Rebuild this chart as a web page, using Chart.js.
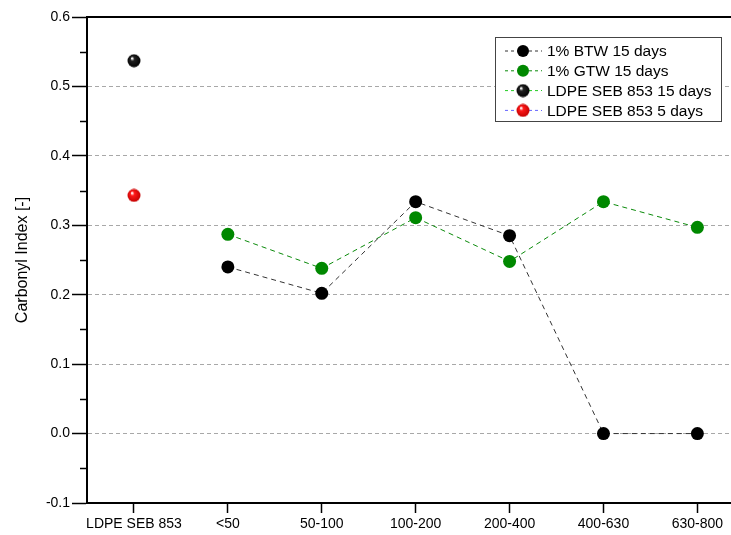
<!DOCTYPE html>
<html>
<head>
<meta charset="utf-8">
<script src="https://cdn.jsdelivr.net/npm/chart.js@4.4.1/dist/chart.umd.min.js"></script>
<style>
html, body { margin: 0; padding: 0; background: #fff; overflow: hidden; }
#wrap { position: relative; width: 731px; height: 535px; overflow: hidden; }
</style>
</head>
<body>
<div id="wrap"><canvas id="chart" width="739" height="535"></canvas></div>
<script>
// categories and values
const categories = ["LDPE SEB 853", "<50", "50-100", "100-200", "200-400", "400-630", "630-800"]
const btw15 = [null, 0.240, 0.202, 0.334, 0.285, 0.0, 0.0]
const gtw15 = [null, 0.287, 0.238, 0.311, 0.248, 0.334, 0.297]
const ldpe15 = [0.537, null, null, null, null, null, null]
const ldpe5 = [0.343, null, null, null, null, null, null]
const yTicks = [-0.1, 0.0, 0.1, 0.2, 0.3, 0.4, 0.5, 0.6]

const FONT = "'Liberation Sans', Arial, sans-serif"

function toPoints(arr) {
  return arr.map((v, i) => ({ x: i, y: v })).filter(p => p.y !== null)
}

// shaded ball marker like the original plot
function sphere(base, dark) {
  const c = document.createElement("canvas")
  c.width = 14
  c.height = 14
  const g = c.getContext("2d")
  const grad = g.createRadialGradient(5, 4.5, 0.5, 7, 7, 7)
  grad.addColorStop(0, "#ffffff")
  grad.addColorStop(0.25, base)
  grad.addColorStop(1, dark)
  g.fillStyle = grad
  g.beginPath()
  g.arc(7, 7, 6.5, 0, Math.PI * 2)
  g.fill()
  return c
}

const blackBall = sphere("#222222", "#000000")
const redBall = sphere("#ff1a1a", "#c00000")

const frameLine = {
  id: "frameLine",
  afterDraw(chart) {
    const { ctx, chartArea } = chart
    const y = chart.scales.y
    ctx.save()
    ctx.strokeStyle = "#000"
    ctx.lineWidth = 2
    ctx.beginPath()
    ctx.moveTo(chartArea.left - 1, chartArea.top)
    ctx.lineTo(chartArea.right, chartArea.top)
    ctx.stroke()
    // minor ticks
    ctx.lineWidth = 1.5
    for (let v = -0.05; v < 0.6; v += 0.1) {
      const py = Math.round(y.getPixelForValue(v)) + 0.5
      ctx.beginPath()
      ctx.moveTo(chartArea.left - 7, py)
      ctx.lineTo(chartArea.left, py)
      ctx.stroke()
    }
    ctx.restore()
  }
}

const boxLegend = {
  id: "boxLegend",
  afterDraw(chart) {
    const ctx = chart.ctx
    const x0 = 495, y0 = 37, w = 226, h = 84
    ctx.save()
    ctx.fillStyle = "#fff"
    ctx.fillRect(x0, y0, w, h)
    ctx.strokeStyle = "#444"
    ctx.lineWidth = 1
    ctx.strokeRect(x0 + 0.5, y0 + 0.5, w, h)
    ctx.font = "15.5px " + FONT
    ctx.textBaseline = "middle"
    chart.data.datasets.forEach((ds, i) => {
      const cy = y0 + 14 + i * 19.8
      ctx.strokeStyle = ds.borderColor
      ctx.setLineDash([3, 3])
      ctx.beginPath()
      ctx.moveTo(x0 + 10, cy)
      ctx.lineTo(x0 + 47, cy)
      ctx.stroke()
      ctx.setLineDash([])
      if (ds.pointStyle instanceof HTMLCanvasElement) {
        ctx.drawImage(ds.pointStyle, x0 + 28 - 7, cy - 7)
      } else {
        ctx.fillStyle = ds.pointBackgroundColor
        ctx.beginPath()
        ctx.arc(x0 + 28, cy, 6, 0, Math.PI * 2)
        ctx.fill()
      }
      ctx.fillStyle = "#000"
      ctx.fillText(ds.label, x0 + 52, cy + 1)
    })
    ctx.restore()
  }
}

new Chart(document.getElementById("chart"), {
  type: "scatter",
  data: {
    datasets: [
      {
        label: "1% BTW 15 days",
        data: toPoints(btw15),
        showLine: true,
        borderColor: "#333333",
        borderWidth: 1,
        borderDash: [5, 4],
        pointBackgroundColor: "#000000",
        pointBorderWidth: 0,
        pointRadius: 6.5
      },
      {
        label: "1% GTW 15 days",
        data: toPoints(gtw15),
        showLine: true,
        borderColor: "#0a8a0a",
        borderWidth: 1,
        borderDash: [5, 4],
        pointBackgroundColor: "#008800",
        pointBorderWidth: 0,
        pointRadius: 6.5
      },
      {
        label: "LDPE SEB 853 15 days",
        data: toPoints(ldpe15),
        borderColor: "#22cc22",
        pointStyle: blackBall
      },
      {
        label: "LDPE SEB 853 5 days",
        data: toPoints(ldpe5),
        borderColor: "#6666ff",
        pointStyle: redBall
      }
    ]
  },
  options: {
    responsive: false,
    animation: false,
    devicePixelRatio: 1,
    layout: { padding: { top: 17, right: 0, left: 0, bottom: 0 } },
    plugins: {
      legend: { display: false },
      tooltip: { enabled: false }
    },
    scales: {
      x: {
        type: "linear",
        min: -0.5,
        max: 6.374,
        afterBuildTicks: scale => {
          scale.ticks = categories.map((c, i) => ({ value: i }))
        },
        afterFit: scale => { scale.height = 32 },
        ticks: {
          autoSkip: false,
          maxRotation: 0,
          padding: 3,
          color: "#000",
          font: { family: FONT, size: 14 },
          callback: v => categories[v]
        },
        grid: {
          drawOnChartArea: false,
          tickLength: 10,
          tickColor: "#000",
          tickWidth: 1.5
        },
        border: { color: "#000", width: 2 }
      },
      y: {
        min: -0.1,
        max: 0.6,
        afterBuildTicks: scale => {
          scale.ticks = yTicks.map(v => ({ value: v }))
        },
        afterFit: scale => { scale.width = 87 },
        ticks: {
          autoSkip: false,
          padding: 2,
          color: "#000",
          font: { family: FONT, size: 14 },
          callback: v => v.toFixed(1)
        },
        grid: {
          color: ctx => (ctx.tick && ctx.tick.value > -0.05 && ctx.tick.value < 0.55) ? "#a8a8a8" : "rgba(0,0,0,0)",
          lineWidth: 1,
          tickLength: 15,
          tickColor: "#000",
          tickWidth: 1.5,
          tickBorderDash: []
        },
        border: { color: "#000", width: 2, dash: [4, 3] },
        title: {
          display: true,
          text: "Carbonyl Index [-]",
          color: "#000",
          font: { family: FONT, size: 16 },
          padding: { top: 13, bottom: 0 }
        }
      }
    }
  },
  plugins: [frameLine, boxLegend]
})
</script>
</body>
</html>
